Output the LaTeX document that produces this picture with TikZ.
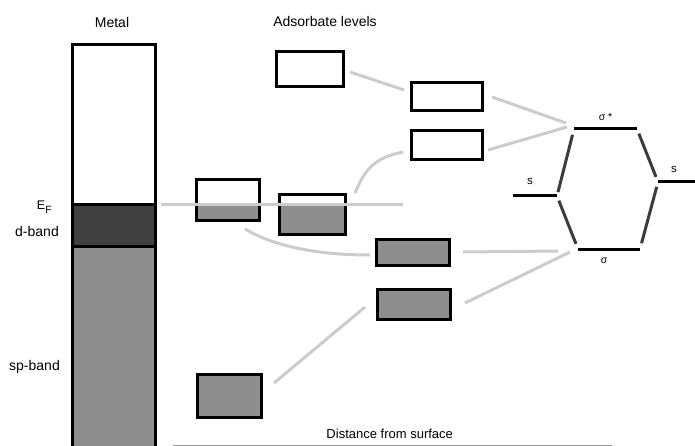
\documentclass[tikz,border=0pt]{standalone}
\usepackage{fontspec}
\setmainfont{Liberation Sans}
\definecolor{bandgray}{RGB}{142,142,142}
\definecolor{dband}{RGB}{64,64,64}
\definecolor{linkgray}{RGB}{204,204,204}
\definecolor{mogray}{RGB}{60,60,60}
\definecolor{axisgray}{RGB}{150,150,150}
\tikzset{
  box/.style={draw=black, line width=3pt, rectangle, inner sep=0pt},
  filledbox/.style={box, fill=bandgray},
  halfbox/.style={box, path picture={\fill[bandgray] (path picture bounding box.south west) rectangle (path picture bounding box.east |- ef);}},
  link/.style={draw=linkgray, line width=3pt},
  mo/.style={draw=mogray, line width=3pt},
  orbital/.style={draw=black, line width=3pt},
  lbl/.style={anchor=base, inner sep=0pt, font=\fontsize{14}{16}\selectfont},
  small/.style={anchor=base, inner sep=0pt, font=\fontsize{10.5}{12}\selectfont},
}
\begin{document}
\begin{tikzpicture}[x=1pt,y=-1pt]
\useasboundingbox (0,0) rectangle (695,446);
\clip (0,0) rectangle (695,446);

% Fermi level reference points
\coordinate (ef) at (161,205);
\coordinate (efend) at (403,205);

% metal band column
\fill[dband] (72.5,205) rectangle (155.5,246);
\fill[bandgray] (72.5,246) rectangle (155.5,460);
\draw[line width=3pt] (72.5,460) -- (72.5,45) -- (155.5,45) -- (155.5,460);
\draw[line width=3pt] (72.5,205) -- (155.5,205);
\draw[line width=3pt] (72.5,246) -- (155.5,246);

% labels
\node[lbl] (metal) at (112,27.5) {Metal};
\node[lbl] (ads) at (325,27) {Adsorbate levels};
\node[anchor=base, inner sep=0pt, font=\fontsize{12.5}{14}\selectfont] (eflabel) at (44.3,209.5) {E\raisebox{-4.5pt}{\fontsize{10.5}{12}\selectfont F}};
\node[lbl] (dlabel) at (37,236.5) {d-band};
\node[lbl] (splabel) at (34.5,370.5) {sp-band};
\node[anchor=base, inner sep=0pt, font=\fontsize{13}{15}\selectfont] (dist) at (389.7,438) {Distance from surface};

% adsorbate level boxes
\node[box, minimum width=67pt, minimum height=35pt] (top) at (310,69) {};
\node[halfbox, minimum width=63pt, minimum height=41pt] (b2) at (228,200) {};
\node[halfbox, minimum width=66pt, minimum height=40pt] (b3) at (312.5,214.5) {};
\node[box, minimum width=71pt, minimum height=28pt] (b4) at (447,96.5) {};
\node[box, minimum width=71pt, minimum height=29pt] (b5) at (447,145) {};
\node[filledbox, minimum width=73pt, minimum height=26pt] (b6) at (413,252.5) {};
\node[filledbox, minimum width=73pt, minimum height=30pt] (b7) at (414,304.5) {};
\node[filledbox, minimum width=64pt, minimum height=43pt] (b8) at (229.5,396) {};

% molecular orbital levels
\coordinate (sL1) at (513,196);  \coordinate (sL2) at (557,196);
\coordinate (ss1) at (574,129);  \coordinate (ss2) at (637,129);
\coordinate (sg1) at (578,249);  \coordinate (sg2) at (640,249);
\coordinate (sR1) at (658,182);  \coordinate (sR2) at (695,182);
\draw[orbital] (sL1) -- (sL2);
\draw[orbital] (ss1) -- (ss2);
\draw[orbital] (sg1) -- (sg2);
\draw[orbital] (sR1) -- (sR2);
\draw[mo, shorten <=6pt, shorten >=4pt] (ss1) -- (sL2);
\draw[mo, shorten <=5pt, shorten >=5.5pt] (sL2) -- (sg1);
\draw[mo, shorten <=5pt, shorten >=5.5pt] (ss2) -- (sR1);
\draw[mo, shorten <=5pt, shorten >=6pt] (sR1) -- (sg2);
\node[small] (sstar) at (605.5,120.5) {σ *};
\node[small] (sigma) at (604.2,263) {σ};
\node[anchor=base, inner sep=0pt, font=\fontsize{11.5}{13}\selectfont] (sleft) at (530,185) {s};
\node[anchor=base, inner sep=0pt, font=\fontsize{11.5}{13}\selectfont] (sright) at (674,172.5) {s};

% correlation lines
\draw[link] ([shift={(5,3)}]top.east) -- ([shift={(-6,-6.5)}]b4.west);
\draw[link] ([shift={(8,0.5)}]b4.east) -- ([shift={(-8,-6)}]ss1);
\draw[link] ([shift={(4,5)}]b5.east) -- ([shift={(-7,-2)}]ss1);
\draw[link] ([shift={(8,0)}]b3.north east) .. controls +(9,-21) and +(-31,6) .. ([shift={(-7,7)}]b5.west);
\draw[link] (ef) -- (efend);
\draw[link] ([shift={(17,7)}]b2.south) .. controls +(22,13) and +(-65,0) .. ([shift={(-5,2.5)}]b6.west);
\draw[link] ([shift={(12,-0.5)}]b6.east) -- ([shift={(-20,2)}]sg1);
\draw[link] ([shift={(13,-1.5)}]b7.east) -- ([shift={(-8,3)}]sg1);
\draw[link] ([shift={(11,-13)}]b8.east) -- ([shift={(-11,2.5)}]b7.west);

% distance axis
\coordinate (ax1) at (173,445);
\coordinate (ax2) at (612,445);
\draw[axisgray, line width=1pt] (ax1) -- (ax2);
\end{tikzpicture}
\end{document}
